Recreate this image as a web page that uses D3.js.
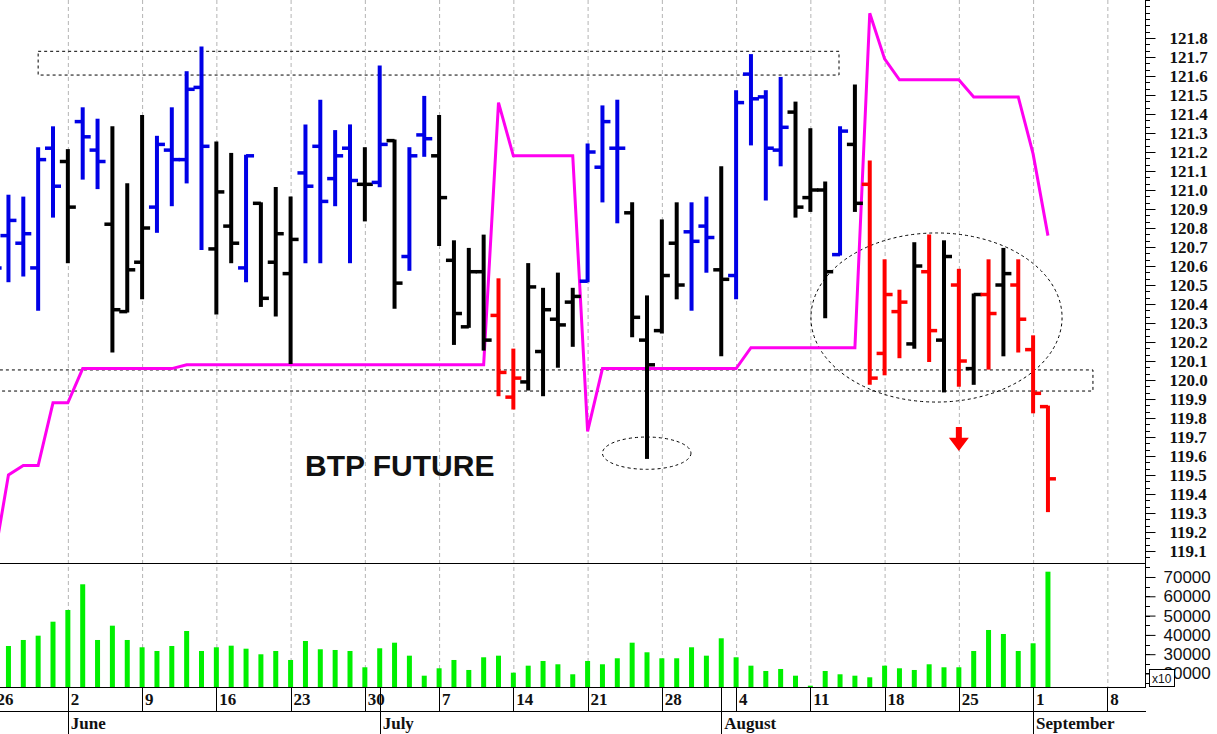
<!DOCTYPE html>
<html><head><meta charset="utf-8">
<script src="https://cdn.jsdelivr.net/npm/d3@7"></script>
<style>html,body{margin:0;padding:0;background:#fff;overflow:hidden}</style>
</head><body>
<svg id="c" width="1217" height="734"></svg>
<script>
// ---------------- DATA ----------------
const firstDay = "2014-05-26";   // first trading day shown (Mon)
const lastAxisDay = "2014-09-12";
// OHLC per trading day from 2014-05-26 to 2014-09-02
const opens  = [120.60,120.76,120.72,120.59,121.22, 121.15,121.36,121.21,120.82,120.36, 120.62,120.91,121.21,121.16,121.54,
                120.69,120.81,120.59,120.93,120.62, 120.56,121.09,121.23,121.06,121.22, 121.03,121.04,121.26,120.65,121.29,
                121.18,120.63,120.28,120.57,120.34, 119.91,119.99,120.15,120.32,120.41, 120.52,121.12,121.22,120.88,120.21,
                120.26,120.72,120.78,120.81,120.58, 120.55,121.61,121.49,121.21,121.41, 120.96,121.00,120.66,121.24,121.03,
                120.14,120.36,120.19,120.57,120.21, 120.50,120.06,120.45,120.50,120.50, 120.16,119.86];
const highs  = [120.90,120.97,120.96,121.22,121.33, 121.21,121.43,121.37,121.33,121.03, 121.39,121.28,121.43,121.62,121.75,
                121.25,121.19,121.18,120.93,121.01, 120.96,121.34,121.47,121.31,121.34, 121.22,121.65,121.26,121.22,121.49,
                121.39,120.73,120.69,120.76,120.53, 120.16,120.61,120.48,120.56,120.48, 121.24,121.44,121.47,120.93,120.44,
                120.84,120.93,120.93,120.96,121.12, 121.52,121.71,121.52,121.59,121.46, 121.32,121.04,121.33,121.55,121.15,
                120.63,120.47,120.72,120.76,120.73, 120.58,120.45,120.63,120.69,120.63, 120.23,119.86];
const lows   = [120.45,120.52,120.55,120.37,120.86, 120.62,121.06,121.01,120.15,120.36, 120.43,120.78,120.92,121.04,120.69,
                120.35,120.62,120.52,120.39,120.34, 120.09,120.62,120.62,120.92,120.62, 120.84,121.02,120.38,120.58,121.18,
                120.71,120.19,120.28,120.16,119.92, 119.85,119.95,119.92,120.07,120.18, 120.52,120.94,120.83,120.23,119.59,
                120.25,120.43,120.37,120.57,120.13, 120.43,121.24,120.95,121.13,120.86, 120.89,120.33,120.66,120.89,119.98,
                120.03,120.12,120.17,120.10,119.94, 119.97,119.98,120.06,120.13,120.15, 119.83,119.31];
const closes = [120.59,120.84,120.77,121.16,121.02, 120.91,121.28,121.15,120.37,120.58, 120.80,121.24,121.16,121.53,121.23,
                120.99,120.72,121.18,120.43,120.77, 120.74,121.02,120.94,121.18,121.05, 121.03,121.24,120.51,121.18,121.27,
                120.96,120.35,120.57,120.21,120.04, 120.01,120.49,120.37,120.29,120.44, 121.20,121.36,121.22,120.33,120.08,
                120.55,120.50,120.73,120.75,120.53, 121.46,121.48,121.22,121.33,120.91, 121.00,120.57,121.31,120.93,120.01,
                120.45,120.41,120.60,120.26,120.65, 120.10,120.45,120.35,120.56,120.32, 119.93,119.48];
// bar colour state: b = blue (up phase), k = black (neutral), r = red (down phase)
const barState = ["b","b","b","b","b", "k","b","b","k","k", "k","b","b","b","b",
                  "k","k","b","k","k", "k","b","b","b","b", "k","b","k","b","b",
                  "k","k","k","k","r", "r","k","k","k","k", "b","b","b","k","k",
                  "k","k","b","b","k", "b","b","b","b","k", "k","k","b","k","r",
                  "r","r","k","r","k", "r","k","r","k","r", "r","r"];
// magenta stop line
const stopLine = [119.04,119.50,119.55,119.55,119.88, 119.88,120.06,120.06,120.06,120.06, 120.06,120.06,120.06,120.08,120.08,
                  120.08,120.08,120.08,120.08,120.08, 120.08,120.08,120.08,120.08,120.08, 120.08,120.08,120.08,120.08,120.08,
                  120.08,120.08,120.08,120.08,121.46, 121.18,121.18,121.18,121.18,121.18, 119.73,120.06,120.06,120.06,120.06,
                  120.06,120.06,120.06,120.06,120.06, 120.06,120.17,120.17,120.17,120.17, 120.17,120.17,120.17,120.17,121.93,
                  121.69,121.58,121.58,121.58,121.58, 121.58,121.49,121.49,121.49,121.49, 121.19,120.76];
const volume = [null,34250,37360,39590,46840, 52900,66220,37360,44770,37360, 33580,31660,34250,42020,31660,
                33580,34410,32850,29950,31660, 27000,36840,32540,32180,31660, 23220,33060,35960,29230,18860,
                22700,27000,21820,28400,29230, 20420,24050,26480,24770,19590, 26480,24770,27880,35960,30990,
                27880,27880,33580,29230,38240, 28400,24050,21300,22340,18860, 13680,21300,19590,18860,18030,
                24050,22700,21820,24770,23220, 23220,31660,42540,40470,31660, 35650,72750];
const priceTicks = [119.1,119.2,119.3,119.4,119.5,119.6,119.7,119.8,119.9,120.0,120.1,120.2,120.3,120.4,
                    120.5,120.6,120.7,120.8,120.9,121.0,121.1,121.2,121.3,121.4,121.5,121.6,121.7,121.8];
const volumeTicks = [20000,30000,40000,50000,60000,70000];
const monthNames = ["June","July","August","September"];
const monthFirstDays = ["2014-06-02","2014-07-01","2014-08-01","2014-09-01"];
const chartTitle = "BTP FUTURE";
// annotations in data space: [dayIndexFrom, dayIndexTo, priceLow, priceHigh]
const topBox   = [3.0, 56.93, 121.605, 121.73];
const band     = [-2, 74.03, 119.942, 120.053];
const bigOval  = [55.04, 71.95, 119.884, 120.774];
const smallOval= [41.0, 46.96, 119.53, 119.70];
const arrowAt  = [65, 119.626, 119.753];

// ---------------- LAYOUT ----------------
const axisX = 1145, priceBottom = 563, volBottom = 687, dayRowBottom = 711, H = 734;
const colors = {b:"#0000e6", k:"#000000", r:"#ff0000"};
const serif = "'Liberation Serif','Times New Roman',serif";
const sans = "'Liberation Sans',Arial,sans-serif";

const parse = d3.timeParse("%Y-%m-%d");
const fmt = d3.timeFormat("%Y-%m-%d");
const days = d3.timeDay.range(parse(firstDay), d3.timeDay.offset(parse(lastAxisDay),1))
  .filter(d => d.getDay() > 0 && d.getDay() < 6);
const dayIndex = new Map(days.map((d,i)=>[fmt(d), i]));

const x = d3.scaleLinear().domain([0, 75]).range([-6.4, 1107.35]);
const y = d3.scaleLinear().domain([119.037, 122]).range([priceBottom, 0]);
const yv = d3.scaleLinear().domain([13000, 77250]).range([volBottom, priceBottom]);

const svg = d3.select("#c");
svg.append("rect").attr("width",1217).attr("height",H).attr("fill","#fff");

const defs = svg.append("defs");
defs.append("clipPath").attr("id","pc").append("rect").attr("x",0).attr("y",0).attr("width",axisX).attr("height",priceBottom);
defs.append("clipPath").attr("id","vc").append("rect").attr("x",0).attr("y",priceBottom).attr("width",axisX).attr("height",volBottom-priceBottom);

// grid (Mondays)
const mondays = days.map((d,i)=>({d,i})).filter(o=>o.d.getDay()===1);
svg.append("g").selectAll("line").data(mondays.filter(o=>x(o.i) < axisX)).join("line")
  .attr("x1",o=>x(o.i)+0.5).attr("x2",o=>x(o.i)+0.5).attr("y1",0).attr("y2",volBottom)
  .attr("stroke","#b4b4b4").attr("stroke-width",1).attr("stroke-dasharray","4,3");

// annotations
const pg = svg.append("g").attr("clip-path","url(#pc)");
const dash = {stroke:"#000", "stroke-width":1, "stroke-dasharray":"3,3", fill:"none"};
function applyDash(sel){ Object.entries(dash).forEach(([k,v])=>sel.attr(k,v)); return sel; }
applyDash(pg.append("rect").attr("x",x(topBox[0])).attr("y",y(topBox[3]))
  .attr("width",x(topBox[1])-x(topBox[0])).attr("height",y(topBox[2])-y(topBox[3])));
applyDash(pg.append("rect").attr("x",x(band[0])).attr("y",y(band[3]))
  .attr("width",x(band[1])-x(band[0])).attr("height",y(band[2])-y(band[3])));
[bigOval, smallOval].forEach(o=>{
  applyDash(pg.append("ellipse").attr("cx",(x(o[0])+x(o[1]))/2).attr("cy",(y(o[2])+y(o[3]))/2)
    .attr("rx",(x(o[1])-x(o[0]))/2).attr("ry",(y(o[2])-y(o[3]))/2));
});

// stop line
const line = d3.line().x((d,i)=>x(i)).y(d=>y(d));
pg.append("path").datum(stopLine).attr("d",line).attr("fill","none")
  .attr("stroke","#ff00f0").attr("stroke-width",3).attr("stroke-linejoin","miter");

// OHLC bars
const bars = pg.append("g").selectAll("g").data(opens.map((o,i)=>({i,o,h:highs[i],l:lows[i],c:closes[i],s:barState[i]}))).join("g")
  .attr("stroke",d=>colors[d.s]);
bars.append("line").attr("x1",d=>x(d.i)).attr("x2",d=>x(d.i)).attr("y1",d=>y(d.h)-1).attr("y2",d=>y(d.l)+1).attr("stroke-width",4);
bars.append("line").attr("x1",d=>x(d.i)-8).attr("x2",d=>x(d.i)).attr("y1",d=>y(d.o)).attr("y2",d=>y(d.o)).attr("stroke-width",3.5);
bars.append("line").attr("x1",d=>x(d.i)).attr("x2",d=>x(d.i)+8).attr("y1",d=>y(d.c)).attr("y2",d=>y(d.c)).attr("stroke-width",3.5);

// arrow
{
  const ax = x(arrowAt[0]), yTop = y(arrowAt[2]), yBot = y(arrowAt[1]);
  const mid = yTop + (yBot-yTop)*0.45;
  pg.append("path").attr("fill","#ff0000")
    .attr("d",`M${ax-3},${yTop}L${ax+3},${yTop}L${ax+3},${mid}L${ax+10},${mid}L${ax},${yBot}L${ax-10},${mid}L${ax-3},${mid}Z`);
}

// title
svg.append("text").attr("x",305).attr("y",476).attr("font-family",sans).attr("font-weight","bold")
  .attr("font-size",30).attr("fill","#111").text(chartTitle);

// volume bars
svg.append("g").attr("clip-path","url(#vc)").selectAll("rect").data(volume.map((v,i)=>({v,i})).filter(d=>d.v!=null)).join("rect")
  .attr("x",d=>x(d.i)-2.5).attr("width",5).attr("y",d=>yv(d.v)).attr("height",d=>volBottom-yv(d.v)).attr("fill","#00f000");

// frame lines
const frame = svg.append("g").attr("stroke","#000").attr("stroke-width",1);
frame.append("line").attr("x1",axisX+0.5).attr("x2",axisX+0.5).attr("y1",0).attr("y2",volBottom);
[priceBottom, volBottom, dayRowBottom].forEach(yy=>frame.append("line").attr("x1",0).attr("x2",axisX+1).attr("y1",yy+0.5).attr("y2",yy+0.5));

// price axis
const minorP = d3.range(Math.ceil(119.037*30), Math.floor(122*30)+1).map(k=>k/30);
svg.append("g").selectAll("line").data(minorP).join("line")
  .attr("x1",axisX).attr("x2",axisX+5).attr("y1",d=>Math.round(y(d))+0.5).attr("y2",d=>Math.round(y(d))+0.5).attr("stroke","#000");
const pAxis = svg.append("g").attr("transform",`translate(${axisX+0.5},0)`)
  .call(d3.axisRight(y).tickValues(priceTicks).tickSize(10).tickPadding(14).tickFormat(d3.format(".1f")));
pAxis.select(".domain").remove();
pAxis.selectAll("text").attr("font-family",serif).attr("font-weight","bold").attr("font-size",17).attr("fill","#111");

// volume axis
const minorV = d3.range(15000, 77000, 5000);
svg.append("g").selectAll("line").data(minorV).join("line")
  .attr("x1",axisX).attr("x2",axisX+5).attr("y1",d=>Math.round(yv(d))+0.5).attr("y2",d=>Math.round(yv(d))+0.5).attr("stroke","#000");
const vAxis = svg.append("g").attr("transform",`translate(${axisX+0.5},0)`)
  .call(d3.axisRight(yv).tickValues(volumeTicks).tickSize(10).tickPadding(8).tickFormat(d3.format("d")));
vAxis.select(".domain").remove();
vAxis.selectAll("text").attr("font-family",sans).attr("font-size",17).attr("fill","#111");
svg.append("rect").attr("x",1149.5).attr("y",669.5).attr("width",25).attr("height",17).attr("fill","#fff").attr("stroke","#000");
svg.append("text").attr("x",1152).attr("y",683).attr("font-family",sans).attr("font-size",12).attr("fill","#111").text("x10");

// date axis: week dividers and day labels
const dg = svg.append("g");
mondays.filter(o=>x(o.i) < axisX).forEach(o=>{
  const xx = Math.round(x(o.i))+0.5;
  dg.append("line").attr("x1",xx).attr("x2",xx).attr("y1",volBottom).attr("y2",dayRowBottom).attr("stroke","#000");
  dg.append("text").attr("x",x(o.i)+3).attr("y",705).attr("font-family",serif).attr("font-weight","bold")
    .attr("font-size",17).attr("fill","#111").text(d3.timeFormat("%-d")(o.d));
});
monthFirstDays.forEach((m,k)=>{
  const i = dayIndex.get(m); const xx = Math.round(x(i))+0.5;
  dg.append("line").attr("x1",xx).attr("x2",xx).attr("y1",volBottom).attr("y2",H).attr("stroke","#000");
  dg.append("text").attr("x",x(i)+3).attr("y",729).attr("font-family",serif).attr("font-weight","bold")
    .attr("font-size",17).attr("fill","#111").text(monthNames[k]);
});
</script>
</body></html>
